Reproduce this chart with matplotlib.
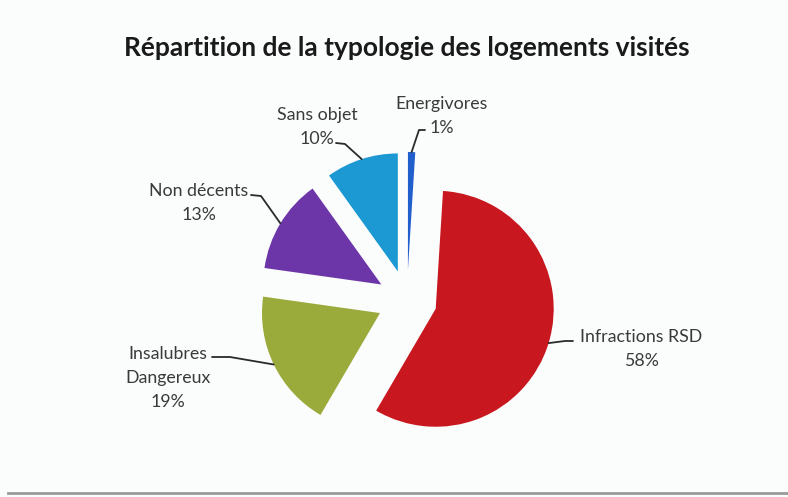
import matplotlib
matplotlib.use("Agg")
import matplotlib.pyplot as plt
from matplotlib.lines import Line2D
import numpy as np

# Data
categories = ["Energivores", "Infractions RSD", "Insalubres\nDangereux", "Non décents", "Sans objet"]
shares = [1, 58, 19, 13, 10]
colors = ["#2160cc", "#c8171e", "#9bab3b", "#6c36a8", "#1c98d3"]
title = "Répartition de la typologie des logements visités"

W, H = 788, 497
fig = plt.figure(figsize=(W / 100, H / 100), dpi=100)
fig.patch.set_facecolor("#fbfcfc")
ax = fig.add_axes([0, 0, 1, 1])
ax.set_facecolor("#fbfcfc")

# pie laid out in pixel units (y pointing up)
cx, cy = 407, H - 300
R = 118
explode = [30] * len(shares)

wedges, _ = ax.pie(shares, colors=colors, startangle=90, counterclock=False,
                   radius=R, center=(cx, cy), explode=explode,
                   wedgeprops=dict(linewidth=0))
ax.set_xlim(0, W)
ax.set_ylim(0, H)
ax.set_aspect("equal")
ax.axis("off")

plt.rcParams["font.family"] = ["Lato", "DejaVu Sans"]
txt_color = "#3a3a3a"

# label block centres and leader-line start/elbow (pixel coords, y from top)
label_pos = [(442, 116), (641, 349), (168, 378), (199, 203), (317, 127)]
leader = [((425, 130), (419, 130)),
          ((573, 341), (565, 341)),
          ((212, 357), (230, 357)),
          ((251, 195), (261, 196)),
          ((336, 143), (345, 144))]

for w, name, val, (lx, ly), (p0, p1) in zip(wedges, categories, shares, label_pos, leader):
    mid = np.deg2rad(0.5 * (w.theta1 + w.theta2))
    ex = w.center[0] + w.r * np.cos(mid)
    ey = w.center[1] + w.r * np.sin(mid)
    ax.text(lx, H - ly, f"{name}\n{val}%", ha="center", va="center",
            fontsize=12.8, color=txt_color, linespacing=1.65)
    ax.plot([p0[0], p1[0], ex], [H - p0[1], H - p1[1], ey],
            color="#2a2a2a", lw=1.3, solid_capstyle="round")

ax.text(407, H - 48, title, ha="center", va="center", fontsize=19,
        fontweight="bold", color="#1a1a1a")

fig.add_artist(Line2D([0.01, 1.0], [0.009, 0.009], transform=fig.transFigure,
                      color="#9a9a9a", lw=2))

fig.savefig("out.png", dpi=100, facecolor=fig.get_facecolor())
